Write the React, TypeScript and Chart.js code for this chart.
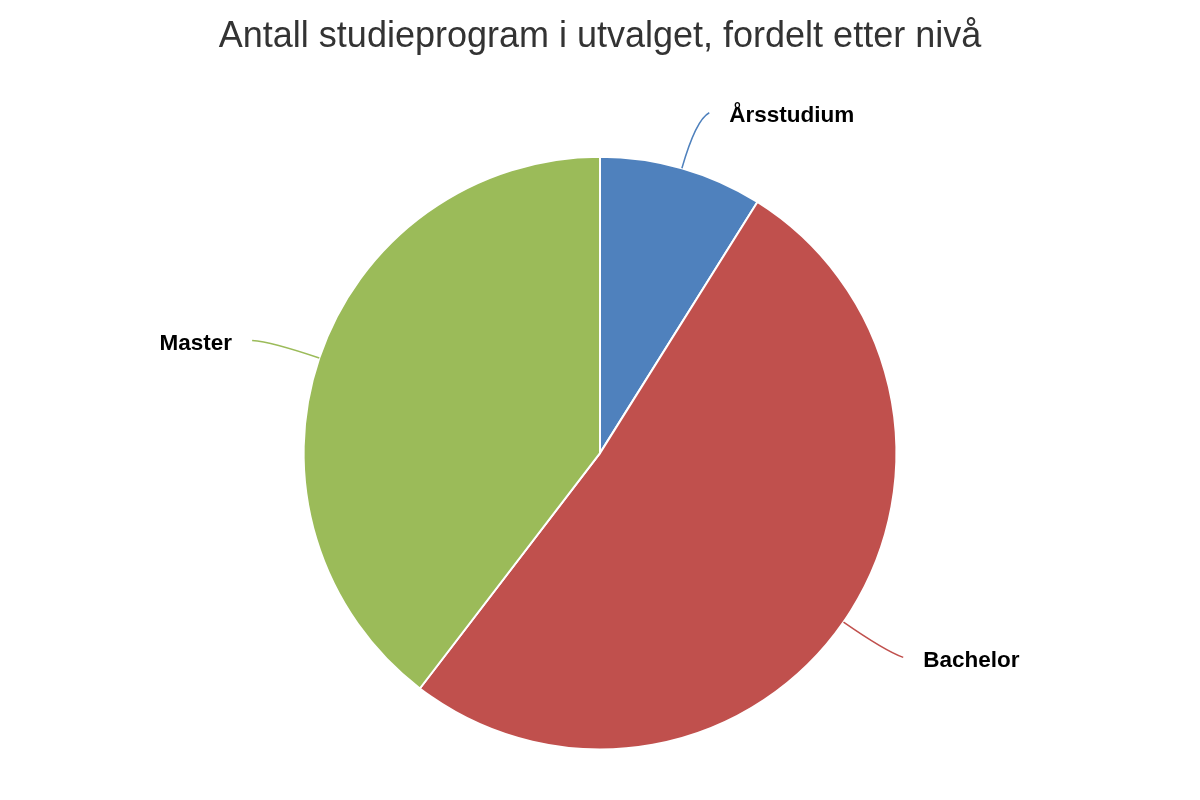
import React, { useEffect, useRef } from "react";
import { Chart, registerables } from "chart.js";

Chart.register(...registerables);

const TITLE = "Antall studieprogram i utvalget, fordelt etter nivå";
const categories = ["Årsstudium", "Bachelor", "Master"];
const values = [9, 52, 40];
const colors = ["#4F81BD", "#C0504D", "#9BBB59"];

const leaderLabels = {
  id: "leaderLabels",
  afterDatasetsDraw(chart: any) {
    const ctx = chart.ctx;
    const meta = chart.getDatasetMeta(0);
    ctx.save();
    meta.data.forEach((arc: any, i: number) => {
      const { x, y, startAngle, endAngle, outerRadius } = arc.getProps(
        ["x", "y", "startAngle", "endAngle", "outerRadius"],
        true
      );
      const mid = (startAngle + endAngle) / 2;
      const cos = Math.cos(mid);
      const sin = Math.sin(mid);
      const sx = x + cos * outerRadius;
      const sy = y + sin * outerRadius;
      const cx = x + cos * outerRadius * 1.17;
      const cy = y + sin * outerRadius * 1.17;
      const ex0 = x + cos * outerRadius * 1.2;
      const ey = y + sin * outerRadius * 1.2 + 1.5;
      const side = cos >= 0 ? 1 : -1;
      const ex = ex0 + side * 11;
      ctx.strokeStyle = colors[i];
      ctx.lineWidth = 1.5;
      ctx.beginPath();
      ctx.moveTo(sx, sy);
      ctx.quadraticCurveTo(cx, cy, ex, ey);
      ctx.stroke();
      ctx.fillStyle = "#000";
      ctx.font = "bold 22.5px 'Liberation Sans', Arial, sans-serif";
      ctx.textBaseline = "middle";
      ctx.textAlign = side > 0 ? "left" : "right";
      ctx.fillText(categories[i], ex + side * 20, ey + 3);
    });
    ctx.restore();
  },
};

export default function App() {
  const ref = useRef<HTMLCanvasElement>(null);
  useEffect(() => {
    document.body.style.margin = "0";
    const chart = new Chart(ref.current!, {
      type: "pie",
      data: {
        labels: categories,
        datasets: [
          {
            data: values,
            backgroundColor: colors,
            borderColor: "#ffffff",
            borderWidth: 2,
          },
        ],
      },
      options: {
        animation: false,
        responsive: false,
        layout: { padding: { bottom: 49.5 } },
        plugins: {
          legend: { display: false },
          tooltip: { enabled: false },
          title: {
            display: true,
            text: TITLE,
            color: "#333333",
            font: { family: "'Liberation Sans', Arial, sans-serif", size: 36, weight: "normal", lineHeight: 1.2 },
            padding: { top: 15.5, bottom: 97 },
          },
        },
      },
      plugins: [leaderLabels],
    });
    return () => chart.destroy();
  }, []);
  return (
    <div style={{ width: 1200, height: 800 }}>
      <canvas ref={ref} width={1200} height={800} />
    </div>
  );
}
